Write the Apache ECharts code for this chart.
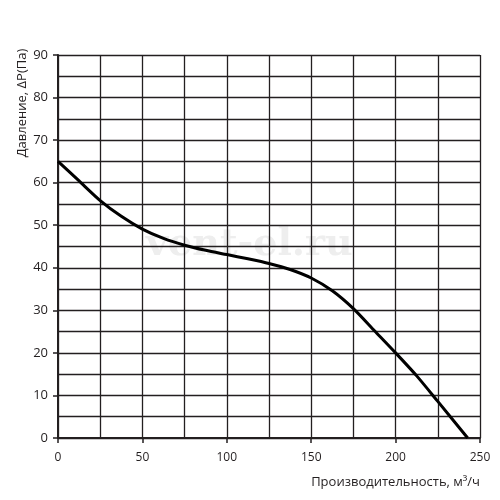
<!DOCTYPE html>
<html>
<head>
<meta charset="utf-8">
<script src="https://cdn.jsdelivr.net/npm/echarts@6/dist/echarts.min.js"></script>
<style>html,body{margin:0;padding:0;background:#fff;}#c{width:500px;height:500px;}</style>
</head>
<body>
<div id="c"></div>
<script>
var flow = [0, 12.5, 25, 37.5, 50, 62.5, 75, 87.5, 100, 112.5, 125, 137.5, 150, 162.5, 175, 187.5, 200, 212.5, 225, 242.7];
var pressure = [65, 60.4, 55.8, 52.1, 49.1, 46.9, 45.3, 44.1, 43.1, 42.1, 41.0, 39.6, 37.6, 34.6, 30.4, 25.2, 20.0, 14.6, 8.6, 0];
var xLabelsShown = [0, 50, 100, 150, 200, 250];
var yLabelsShown = [0, 10, 20, 30, 40, 50, 60, 70, 80, 90];

var data = flow.map(function (x, i) { return [x, pressure[i]]; });
var lineColor = '#231f20';
var font = 'Open Sans';
var chart = echarts.init(document.getElementById('c'));
chart.setOption({
  backgroundColor: '#fff',
  animation: false,
  grid: { left: 58, right: 20, top: 55, bottom: 62 },
  graphic: [
    { type: 'text', left: 146, top: 226, z: 0,
      style: { text: 'vent-el.ru', fill: '#eeeeee', font: 'bold 38px "DejaVu Serif"' } },
    { type: 'text', x: 22, y: 103, rotation: Math.PI / 2,
      style: { text: 'Давление, ΔP(Па)', fill: lineColor, font: '13px "Open Sans"', align: 'center', verticalAlign: 'middle' } },
    { type: 'text', x: 480, y: 482,
      style: { text: 'Производительность, м³/ч', fill: lineColor, font: '13px "Open Sans"', align: 'right', verticalAlign: 'middle' } }
  ],
  xAxis: {
    type: 'value', min: 0, max: 250, interval: 50,
    axisLine: { show: true, lineStyle: { color: lineColor, width: 2 } },
    axisTick: { show: true, length: 5, lineStyle: { color: lineColor, width: 1.5 } },
    axisLabel: { color: lineColor, fontFamily: font, fontSize: 12, margin: 14,
      formatter: function (v) { return xLabelsShown.indexOf(v) >= 0 ? String(v) : ''; } },
    splitLine: { show: true, lineStyle: { color: lineColor, width: 1.3 } },
    minorTick: { show: false, splitNumber: 2 },
    minorSplitLine: { show: true, lineStyle: { color: lineColor, width: 1.3 } }
  },
  yAxis: {
    type: 'value', min: 0, max: 90, interval: 10,
    axisLine: { show: true, lineStyle: { color: lineColor, width: 2 } },
    axisTick: { show: true, length: 5, lineStyle: { color: lineColor, width: 1.5 } },
    axisLabel: { color: lineColor, fontFamily: font, fontSize: 13, margin: 10,
      formatter: function (v) { return yLabelsShown.indexOf(v) >= 0 ? String(v) : ''; } },
    splitLine: { show: true, lineStyle: { color: lineColor, width: 1.3 } },
    minorTick: { show: false, splitNumber: 2 },
    minorSplitLine: { show: true, lineStyle: { color: lineColor, width: 1.3 } }
  },
  series: [{
    type: 'line', data: data, smooth: 0.25, showSymbol: false, symbol: 'none',
    lineStyle: { color: '#000', width: 3 }, z: 5
  }]
});
</script>
</body>
</html>
